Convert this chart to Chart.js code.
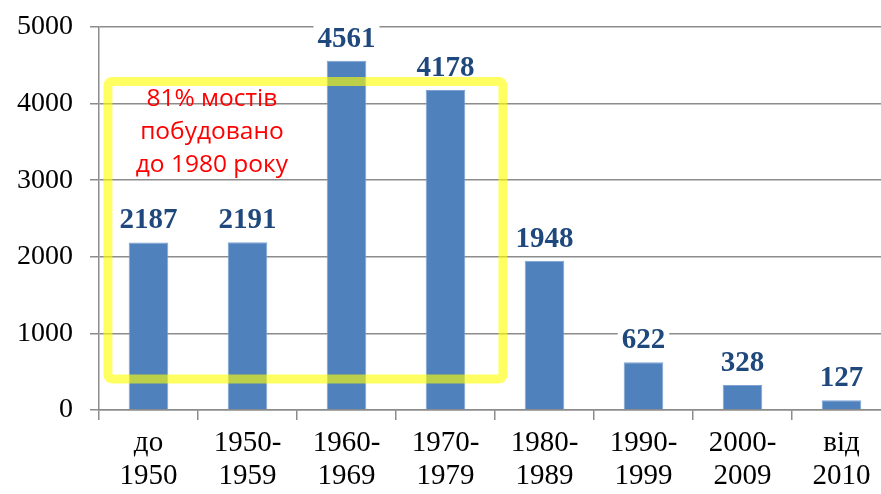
<!DOCTYPE html>
<html>
<head>
<meta charset="utf-8">
<script src="https://cdn.jsdelivr.net/npm/chart.js@4"></script>
<style>
    html, body { margin: 0; padding: 0; background: #fff; overflow: hidden; }
    #wrap { width: 891px; height: 494px; }
</style>
</head>
<body>
<div id="wrap"><canvas id="chartbar"></canvas></div>
<script>
// Bridges by construction period
const categories = [['до', '1950'], ['1950-', '1959'], ['1960-', '1969'], ['1970-', '1979'],
    ['1980-', '1989'], ['1990-', '1999'], ['2000-', '2009'], ['від', '2010']];
const bridgeCounts = [2187, 2191, 4561, 4178, 1948, 622, 328, 127];
const yTicks = [0, 1000, 2000, 3000, 4000, 5000];
const noteLines = ['81% мостів', 'побудовано', 'до 1980 року'];

// Highlight box, given in data units (category index, value)
const boxRange = { x0: -0.41, x1: 3.58, y0: 405, y1: 4290 };

const serif = '"Liberation Serif", "DejaVu Serif", serif';

const valueLabels = {
    id: 'valueLabels',
    afterDatasetsDraw(chart) {
        const ctx = chart.ctx;
        const meta = chart.getDatasetMeta(0);
        ctx.save();
        ctx.font = 'bold 29px ' + serif;
        ctx.textAlign = 'center';
        ctx.textBaseline = 'alphabetic';
        meta.data.forEach((bar, i) => {
            const text = String(bridgeCounts[i]);
            const w = ctx.measureText(text).width;
            const base = bar.y - 14;
            ctx.fillStyle = '#fff';
            ctx.fillRect(bar.x - w / 2 - 4, base - 22, w + 8, 26);
            ctx.fillStyle = '#1F497D';
            ctx.fillText(text, bar.x, base);
        });
        ctx.restore();
    }
};

const highlightBox = {
    id: 'highlightBox',
    afterDraw(chart) {
        const ctx = chart.ctx;
        const xs = chart.scales.x, ys = chart.scales.y;
        const step = xs.getPixelForValue(1) - xs.getPixelForValue(0);
        const left = xs.getPixelForValue(0) + boxRange.x0 * step;
        const right = xs.getPixelForValue(0) + boxRange.x1 * step;
        const top = ys.getPixelForValue(boxRange.y1);
        const bottom = ys.getPixelForValue(boxRange.y0);
        ctx.save();
        ctx.strokeStyle = 'rgba(255, 255, 0, 0.62)';
        ctx.lineWidth = 9;
        ctx.lineJoin = 'round';
        ctx.beginPath();
        ctx.roundRect(left, top, right - left, bottom - top, 4);
        ctx.stroke();

        ctx.fillStyle = '#FF0000';
        ctx.font = '24.5px "Open Sans", "Liberation Sans", sans-serif';
        ctx.textAlign = 'center';
        ctx.textBaseline = 'middle';
        const cx = left + 104;
        noteLines.forEach((line, i) => {
            ctx.fillText(line, cx, top + 18 + i * 33);
        });
        ctx.restore();
    }
};

const ctx = document.getElementById('chartbar');
new Chart(ctx, {
    type: 'bar',
    data: {
        labels: categories,
        datasets: [{
            data: bridgeCounts,
            backgroundColor: '#4F81BD',
            borderColor: '#7EA3D2',
            borderWidth: 1,
            barPercentage: 0.4,
            categoryPercentage: 1
        }]
    },
    options: {
        responsive: true,
        maintainAspectRatio: false,
        animation: false,
        layout: { padding: { top: 27, right: 0, left: 0, bottom: 0 } },
        scales: {
            y: {
                min: 0,
                max: 5000,
                afterBuildTicks(axis) {
                    axis.ticks = yTicks.map(v => ({ value: v }));
                },
                afterFit(axis) {
                    axis.width = 99;
                    axis.paddingTop = 0;
                    axis.paddingBottom = 0;
                },
                grid: {
                    color: '#8C8C8C',
                    lineWidth: 1.5,
                    tickLength: 9
                },
                border: { color: '#8C8C8C', width: 1.5 },
                ticks: {
                    color: '#000',
                    padding: 17,
                    font: { family: serif, size: 28 },
                    callback: v => String(v)
                }
            },
            x: {
                afterFit(axis) { axis.height = 84; },
                grid: {
                    offset: true,
                    drawOnChartArea: false,
                    color: '#8C8C8C',
                    lineWidth: 1.5,
                    tickLength: 10
                },
                border: { color: '#8C8C8C', width: 1.5 },
                ticks: {
                    color: '#000',
                    padding: 7,
                    maxRotation: 0,
                    autoSkip: false,
                    font: { family: serif, size: 29, lineHeight: 1.14 }
                }
            }
        },
        plugins: {
            legend: { display: false },
            tooltip: { enabled: false }
        }
    },
    plugins: [valueLabels, highlightBox]
});
</script>
</body>
</html>
